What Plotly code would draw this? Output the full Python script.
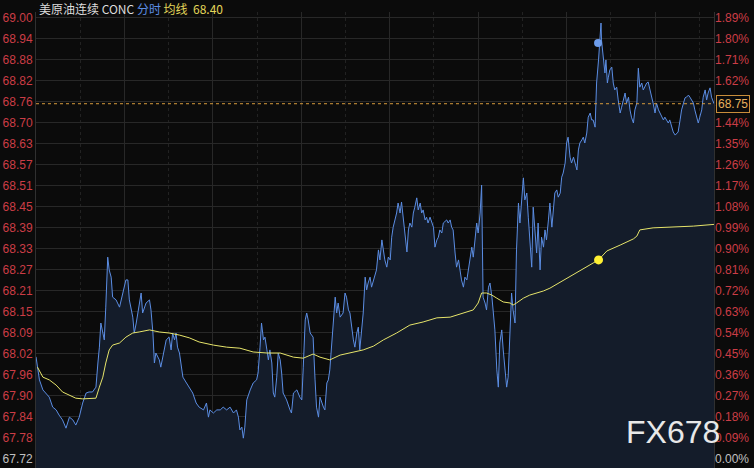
import plotly.graph_objects as go

# ---- data (minutes from session start, price) ----
minutes = [0,7,14,20,27,34,41,47,54,61, 68,75,81,88,95,102,108,115,122,126, 129,132,136,139,142,146,149,153,156,163,
           170,176,183,187,190,197,200,204,210,214, 217,224,231,234,238,241,244,251,254,258, 265,271,275,278,282,285,288,292,299,305,
           312,319,326,332,
           341,347,351,354,361,368,375,381,388,395, 402,408,412,415,419,422,425,429,436,442, 449,452,456,459,463,466,470,473,476,480,
           483,486,490,493,497,500,503,510,517,520, 524,531,537,541,544,548,551,554,558,564, 568,571,575,578,585,588,592,595,598,605,
           609,612,615,619,625,629,632,636,639,646, 649,653,656,659,663,666,670,673,676,
           680,683,687,693,697,700,704,707,710,714, 717,721,724,727,731,734,737,741,744,748, 751,755,758,761,765,768,771,775,778,782,
           785,788,792,795,798,802,809,812,816,819, 822,826,829,836,839,843,846,849,853,856, 860,863,866,870,873,877,880,883,887,890,
           894,897,900,904,907,909,910,914,917,921, 924,928,931,934,938,941,944,948,951,955, 958,961,965,968,971,975,978,982,985,989,
           992,995,999,1002,1005,1009,1012,1016,1019,1022, 1026,1029,1033,1036,1039,1043,1046,
           1050,1053,1056,1060,1063,1067,1070,1073,1077,1080, 1083,1087,1090,1094,1097,1101,1104,1107,1111,1114,
           1117,1121,1124,1128,1131,1134,1138,1141,1145,1148, 1150,1151,1155,1158,1160,1163,1165,1168,1172,1175,
           1178,1182,1185,1189,1192,1195,1199,1202,1206,1209, 1212,1216,1219,1223,1226,1229,1233,1236,1240,1243,
           1246,1250,1253,1256,1260,1263,1267,1270,1274,1277, 1280,1284,1287,1290,1294,1297,1301,1304,1307,1311,
           1314,1318,1321,1324,1328,1331,1335,1338,1341,1345, 1348,1351,1355,1358,1362,1365,1368,1372,1375,1380]

prices = [68.016,67.949,67.920,67.911,67.899,67.870,67.862,67.847,67.833,67.809,
          67.841,67.833,67.818,67.841,67.882,67.911,67.914,67.914,67.928,67.998,
          68.044,68.114,68.085,68.065,68.160,68.305,68.268,68.247,68.189,68.181,
          68.160,68.201,68.239,68.239,68.181,68.131,68.085,68.114,68.160,68.201,
          68.143,68.172,68.181,68.152,68.085,67.998,68.027,68.007,67.986,68.015,
          68.065,68.073,68.036,68.085,68.065,68.085,68.044,68.027,67.957,67.943,
          67.928,67.911,67.882,67.870,
          67.862,67.882,67.841,67.862,67.853,67.862,67.862,67.870,67.862,67.870,
          67.853,67.862,67.841,67.804,67.812,67.780,67.812,67.891,67.920,67.940,
          67.949,67.969,68.044,68.114,68.065,68.073,68.036,68.007,68.036,67.998,
          67.911,67.899,67.957,68.027,68.007,67.969,67.911,67.891,67.862,67.853,
          67.911,67.920,67.899,67.891,67.986,68.123,68.143,68.123,68.085,68.073,
          67.949,67.870,67.841,67.899,67.870,67.862,67.940,67.949,67.978,68.123,
          68.189,68.143,68.172,68.131,68.143,68.201,68.189,68.152,68.143,68.065,
          68.044,68.085,68.102,68.036,68.094,68.143,68.247,68.210,68.230,
          68.247,68.218,68.239,68.268,68.326,68.297,68.355,68.326,68.297,68.276,
          68.305,68.297,68.363,68.392,68.413,68.433,68.462,68.433,68.465,68.404,
          68.363,68.320,68.384,68.404,68.392,68.433,68.450,68.477,68.442,68.462,
          68.433,68.442,68.413,68.421,68.404,68.421,68.392,68.334,68.355,68.363,
          68.384,68.375,68.404,68.413,68.404,68.413,68.392,68.384,68.317,68.276,
          68.297,68.268,68.239,68.218,68.247,68.239,68.268,68.288,68.334,68.305,
          68.363,68.404,68.375,68.433,68.514,68.268,68.189,68.172,68.152,68.218,
          68.230,68.189,68.143,68.094,67.978,67.928,68.056,68.094,68.036,67.978,
          67.928,67.957,68.094,68.201,68.152,68.114,68.326,68.462,68.404,68.471,
          68.535,68.471,68.491,68.421,68.363,68.276,68.450,68.363,68.317,68.404,
          68.268,68.363,68.334,68.384,68.355,68.413,68.462,
          68.392,68.442,68.491,68.500,68.479,68.491,68.537,68.549,68.578,68.636,
          68.653,68.595,68.578,68.595,68.578,68.558,68.616,68.636,68.645,68.653,
          68.636,68.665,68.711,68.723,68.703,68.703,68.682,68.810,68.877,68.943,
          68.984,68.935,68.885,68.839,68.877,68.810,68.827,68.848,68.856,68.810,
          68.790,68.798,68.761,68.723,68.740,68.761,68.781,68.752,68.769,68.732,
          68.711,68.694,68.732,68.752,68.853,68.798,68.810,68.790,68.804,68.810,
          68.813,68.790,68.769,68.752,68.723,68.752,68.732,68.723,68.711,68.703,
          68.711,68.703,68.694,68.703,68.682,68.668,68.659,68.665,68.668,68.703,
          68.732,68.752,68.767,68.769,68.775,68.769,68.761,68.752,68.732,68.711,
          68.694,68.711,68.732,68.769,68.790,68.761,68.781,68.796,68.769,68.750]

avg_minutes = [3,14,27,41,54,68,81,95,108,122,129,136,142,149,156,170,183,197,210,231,
               251,271,292,312,332,361,388,415,442,470,497,524,544,564,578,598,619,646,666,687,
               707,734,761,788,816,843,870,890,900,907,917,928,938,951,965,971,978,992,1005,1019,
               1033,1046,1053,1080,1107,1134,1145,1162,1189,1216,1223,1229,1256,1284,1311,1338,1380]
avg_prices = [67.986,67.957,67.949,67.934,67.914,67.905,67.896,67.894,67.894,67.896,
              67.928,67.957,67.998,68.036,68.050,68.056,68.073,68.085,68.088,68.094,
              68.088,68.085,68.079,68.071,68.059,68.050,68.044,68.041,68.030,68.027,
              68.027,68.015,68.012,68.024,68.015,68.007,68.021,68.030,68.036,68.047,
              68.065,68.085,68.108,68.117,68.129,68.131,68.143,68.152,68.172,68.201,
              68.201,68.195,68.186,68.175,68.172,68.166,68.172,68.186,68.195,68.201,
              68.207,68.215,68.221,68.244,68.265,68.288,68.297,68.323,68.340,68.358,
              68.366,68.384,68.390,68.392,68.392,68.395,68.400]

left_labels = ["69.00","68.94","68.88","68.82","68.76","68.70","68.63","68.57","68.51","68.45","68.39",
               "68.33","68.27","68.21","68.15","68.09","68.02","67.96","67.90","67.84","67.78","67.72"]
right_labels = ["1.89%","1.80%","1.71%","1.62%","1.53%","1.44%","1.35%","1.26%","1.17%","1.08%","0.99%",
                "0.90%","0.81%","0.72%","0.63%","0.54%","0.45%","0.36%","0.27%","0.18%","0.09%","0.00%"]
axis_top, axis_bottom = 69.00, 67.72
last_price = 68.75
avg_last = 68.40
session_minutes = 1380
blue_marker = (1144, 68.926)
yellow_marker = (1145, 68.297)

# ---- styling ----
BG = "#0b0b0b"
GRID = "#282828"
RED = "#cc3d46"
BASEGRAY = "#c0c0c0"
BLUE = "#5b8de3"
YELLOW = "#e6e46a"
NUMFONT = "Liberation Sans, Arial, sans-serif"

n = len(left_labels)
tickvals = [axis_top - i * (axis_top - axis_bottom) / (n - 1) for i in range(n)]
lt = [t if i < n - 1 else f"<span style='color:{BASEGRAY}'>{t}</span>" for i, t in enumerate(left_labels)]
rt = [t if i < n - 1 else f"<span style='color:{BASEGRAY}'>{t}</span>" for i, t in enumerate(right_labels)]

yr = [67.6935, 69.016]

fig = go.Figure()
fig.add_trace(go.Scatter(x=minutes, y=prices, mode="lines", line=dict(color=BLUE, width=1),
                         fill="tozeroy", fillcolor="#141c2a", hoverinfo="skip"))
fig.add_trace(go.Scatter(x=avg_minutes, y=avg_prices, mode="lines", line=dict(color=YELLOW, width=1),
                         hoverinfo="skip"))
fig.add_trace(go.Scatter(x=[blue_marker[0]], y=[blue_marker[1]], mode="markers",
                         marker=dict(color="#6d9ceb", size=8), hoverinfo="skip"))
fig.add_trace(go.Scatter(x=[yellow_marker[0]], y=[yellow_marker[1]], mode="markers",
                         marker=dict(color="#fff033", size=9), hoverinfo="skip"))
fig.add_trace(go.Scatter(x=[0, session_minutes], y=[axis_bottom, axis_top], yaxis="y2", mode="lines",
                         line=dict(color="rgba(0,0,0,0)"), hoverinfo="skip"))

fig.add_shape(type="line", xref="paper", x0=0, x1=1, yref="y", y0=last_price, y1=last_price,
              line=dict(color="#d69a3c", width=1, dash="3px,3px"))

fig.update_layout(
    width=754, height=468, showlegend=False,
    paper_bgcolor=BG, plot_bgcolor=BG,
    margin=dict(l=36, r=40, t=12, b=0),
    xaxis=dict(range=[0, session_minutes], showticklabels=False, ticks="", zeroline=False,
               showgrid=True, gridcolor=GRID, gridwidth=1, tick0=0, dtick=180,
               minor=dict(dtick=90, tick0=0, showgrid=True, gridcolor="#222222", griddash="dot"),
               showline=False),
    yaxis=dict(range=yr, tickvals=tickvals, ticktext=lt, tickfont=dict(color=RED, size=12, family=NUMFONT),
               showgrid=True, gridcolor=GRID, gridwidth=1, zeroline=False, ticks="",
               showline=True, linecolor="#303030", linewidth=1, mirror=True),
    yaxis2=dict(range=yr, overlaying="y", side="right", tickvals=tickvals, ticktext=rt,
                tickfont=dict(color=RED, size=12, family=NUMFONT), showgrid=False, zeroline=False, ticks=""),
)

fig.add_annotation(xref="paper", yref="paper", x=0, y=1, xanchor="left", yanchor="middle", xshift=1, yshift=4,
                   showarrow=False,
                   text=(f"美原油连续 CONC <span style='color:{BLUE}'>分时</span> "
                         f"<span style='color:#e3d65a'>均线</span>  <span style='color:#e3d65a'>{avg_last:.2f}</span>"),
                   font=dict(color="#dcdcdc", size=12, family="Noto Sans CJK SC, Liberation Sans, sans-serif"))

fig.add_annotation(xref="paper", yref="y", x=1, y=last_price, xanchor="left", yanchor="middle", xshift=2,
                   showarrow=False, text=f"{last_price:.2f}",
                   font=dict(color="#e8b05c", size=12, family=NUMFONT),
                   bgcolor=BG, bordercolor="#c88d3a", borderwidth=1, borderpad=1)

fig.add_annotation(xref="paper", yref="paper", x=0.9395, y=0.079, xanchor="center", yanchor="middle",
                   showarrow=False, text="FX678",
                   font=dict(color="#e8e8e8", size=32, family=NUMFONT))

fig.write_html("out.html", config={"displayModeBar": False},
               post_script="document.body.style.margin='0';document.body.style.padding='0';"
                           "document.body.style.background='#0b0b0b';")
